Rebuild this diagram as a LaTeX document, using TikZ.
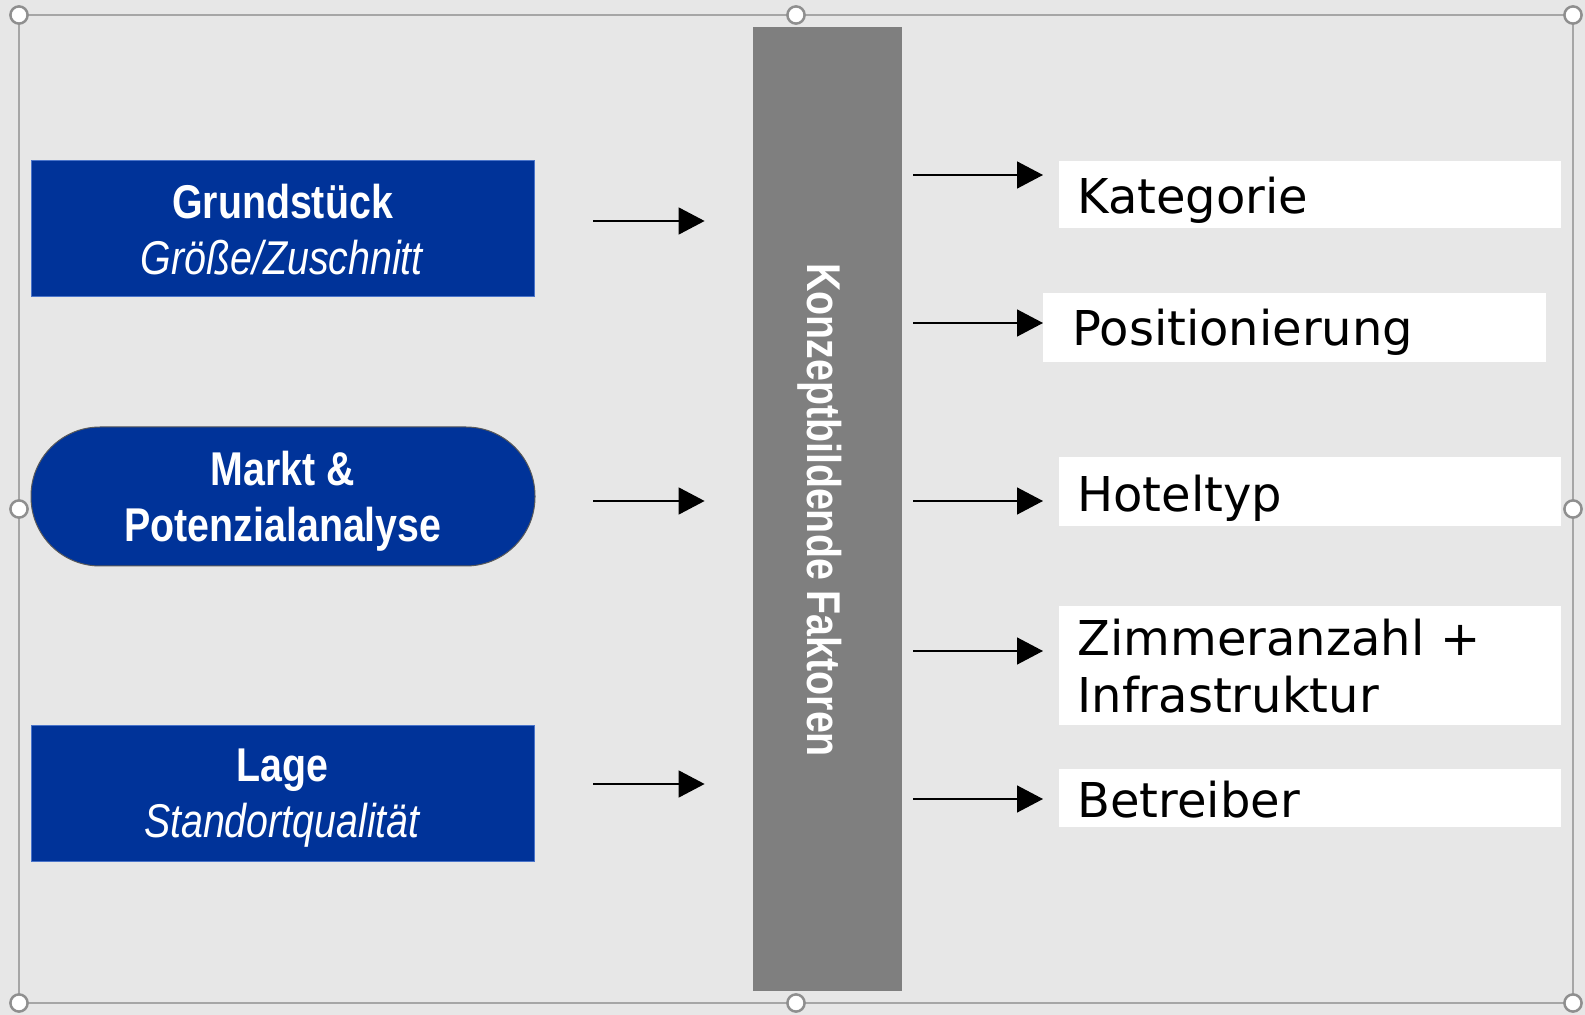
\documentclass[tikz,border=0pt]{standalone}
\usepackage{fontspec}
\usepackage{tikz}
\usetikzlibrary{arrows.meta}
\newfontfamily\narrowsans[FakeStretch=0.83]{Liberation Sans}
\newfontfamily\itemfont{DejaVu Sans}
\definecolor{bgGray}{HTML}{E7E7E7}
\definecolor{boxBlue}{HTML}{003399}
\definecolor{edgeBlue}{HTML}{4A74C9}
\definecolor{barGray}{HTML}{7F7F7F}
\definecolor{frameGray}{HTML}{A6A6A6}
\definecolor{handleGray}{HTML}{8F8F8F}

\begin{document}
\begin{tikzpicture}[x=0.5pt, y=-0.5pt,
    source/.style={fill=boxBlue, draw=edgeBlue, line width=0.5pt, text=white, align=center,
        minimum width=251.5pt, minimum height=68pt, inner sep=0pt, text depth=0pt,
        font=\narrowsans\fontsize{23.7}{28}\selectfont},
    item/.style={anchor=north west, fill=white, align=left, text width=233pt, inner xsep=9pt,
        inner ysep=0pt, font=\itemfont\fontsize{24}{28.8}\selectfont},
    arr/.style={-{Triangle[length=13pt, width=13.5pt]}, line width=0.75pt},
    handle/.style={fill=white, draw=handleGray, line width=1.25pt}]
    \fill[bgGray] (0,0) rectangle (1585,1015);
    \useasboundingbox (0,0) rectangle (1585,1015);

    % selection frame
    \draw[frameGray, line width=1pt] (19,15) rectangle (1573,1003);
    \foreach \hx/\hy in {19/15, 796/15, 1573/15, 19/509, 1573/509, 19/1003, 796/1003, 1573/1003}
        \draw[handle] (\hx,\hy) circle[radius=4.3pt];

    % inputs
    \node[source] (grund) at (282.5,229) {\textbf{Grundstück}\\\textit{Größe/Zuschnitt}};
    \node[source, rounded corners=34.5pt, draw=gray!70!black, minimum width=252pt, minimum height=69.5pt]
        (markt) at (283,496.5) {\textbf{Markt \&}\\\textbf{Potenzialanalyse}};
    \node[source] (lage) at (282.5,793) {\textbf{Lage}\\\textit{Standortqualität}};

    % centre bar
    \node[fill=barGray, minimum width=74.5pt, minimum height=482pt, inner sep=0pt] (bar) at (827.5,509) {};
    \node[rotate=-90, text=white, inner sep=0pt, font=\narrowsans\bfseries\fontsize{23.7}{28}\selectfont]
        (konzept) at (820,510) {Konzeptbildende Faktoren};

    % results
    \node[item, text height=26pt, text depth=7.5pt] (kat) at (1059,161) {Kategorie};
    \node[item, text width=222.5pt, inner xsep=14.5pt, text height=26pt, text depth=8.5pt]
        (pos) at (1043,293) {Positionierung};
    \node[item, text height=27pt, text depth=7.5pt] (hotel) at (1059,457) {Hoteltyp};
    \node[item, text height=24.5pt, text depth=35pt] (zimmer) at (1059,606) {Zimmeranzahl +\\Infrastruktur};
    \node[item, text height=24pt, text depth=5pt] (betr) at (1059,769) {Betreiber};

    % arrows
    \coordinate (in1) at (593,221);
    \coordinate (in2) at (593,501);
    \coordinate (in3) at (593,784);
    \coordinate (out1) at (1043,175);
    \coordinate (out2) at (1043,323);
    \coordinate (out3) at (1043,501);
    \coordinate (out4) at (1043,651);
    \coordinate (out5) at (1043,799);

    \draw[arr, shorten >=24pt] (in1) -- (in1 -| bar.west);
    \draw[arr, shorten >=24pt] (in2) -- (in2 -| bar.west);
    \draw[arr, shorten >=24pt] (in3) -- (in3 -| bar.west);
    \draw[arr, shorten <=5.5pt] (out1 -| bar.east) -- (out1);
    \draw[arr, shorten <=5.5pt] (out2 -| bar.east) -- (out2);
    \draw[arr, shorten <=5.5pt] (out3 -| bar.east) -- (out3);
    \draw[arr, shorten <=5.5pt] (out4 -| bar.east) -- (out4);
    \draw[arr, shorten <=5.5pt] (out5 -| bar.east) -- (out5);
\end{tikzpicture}
\end{document}
